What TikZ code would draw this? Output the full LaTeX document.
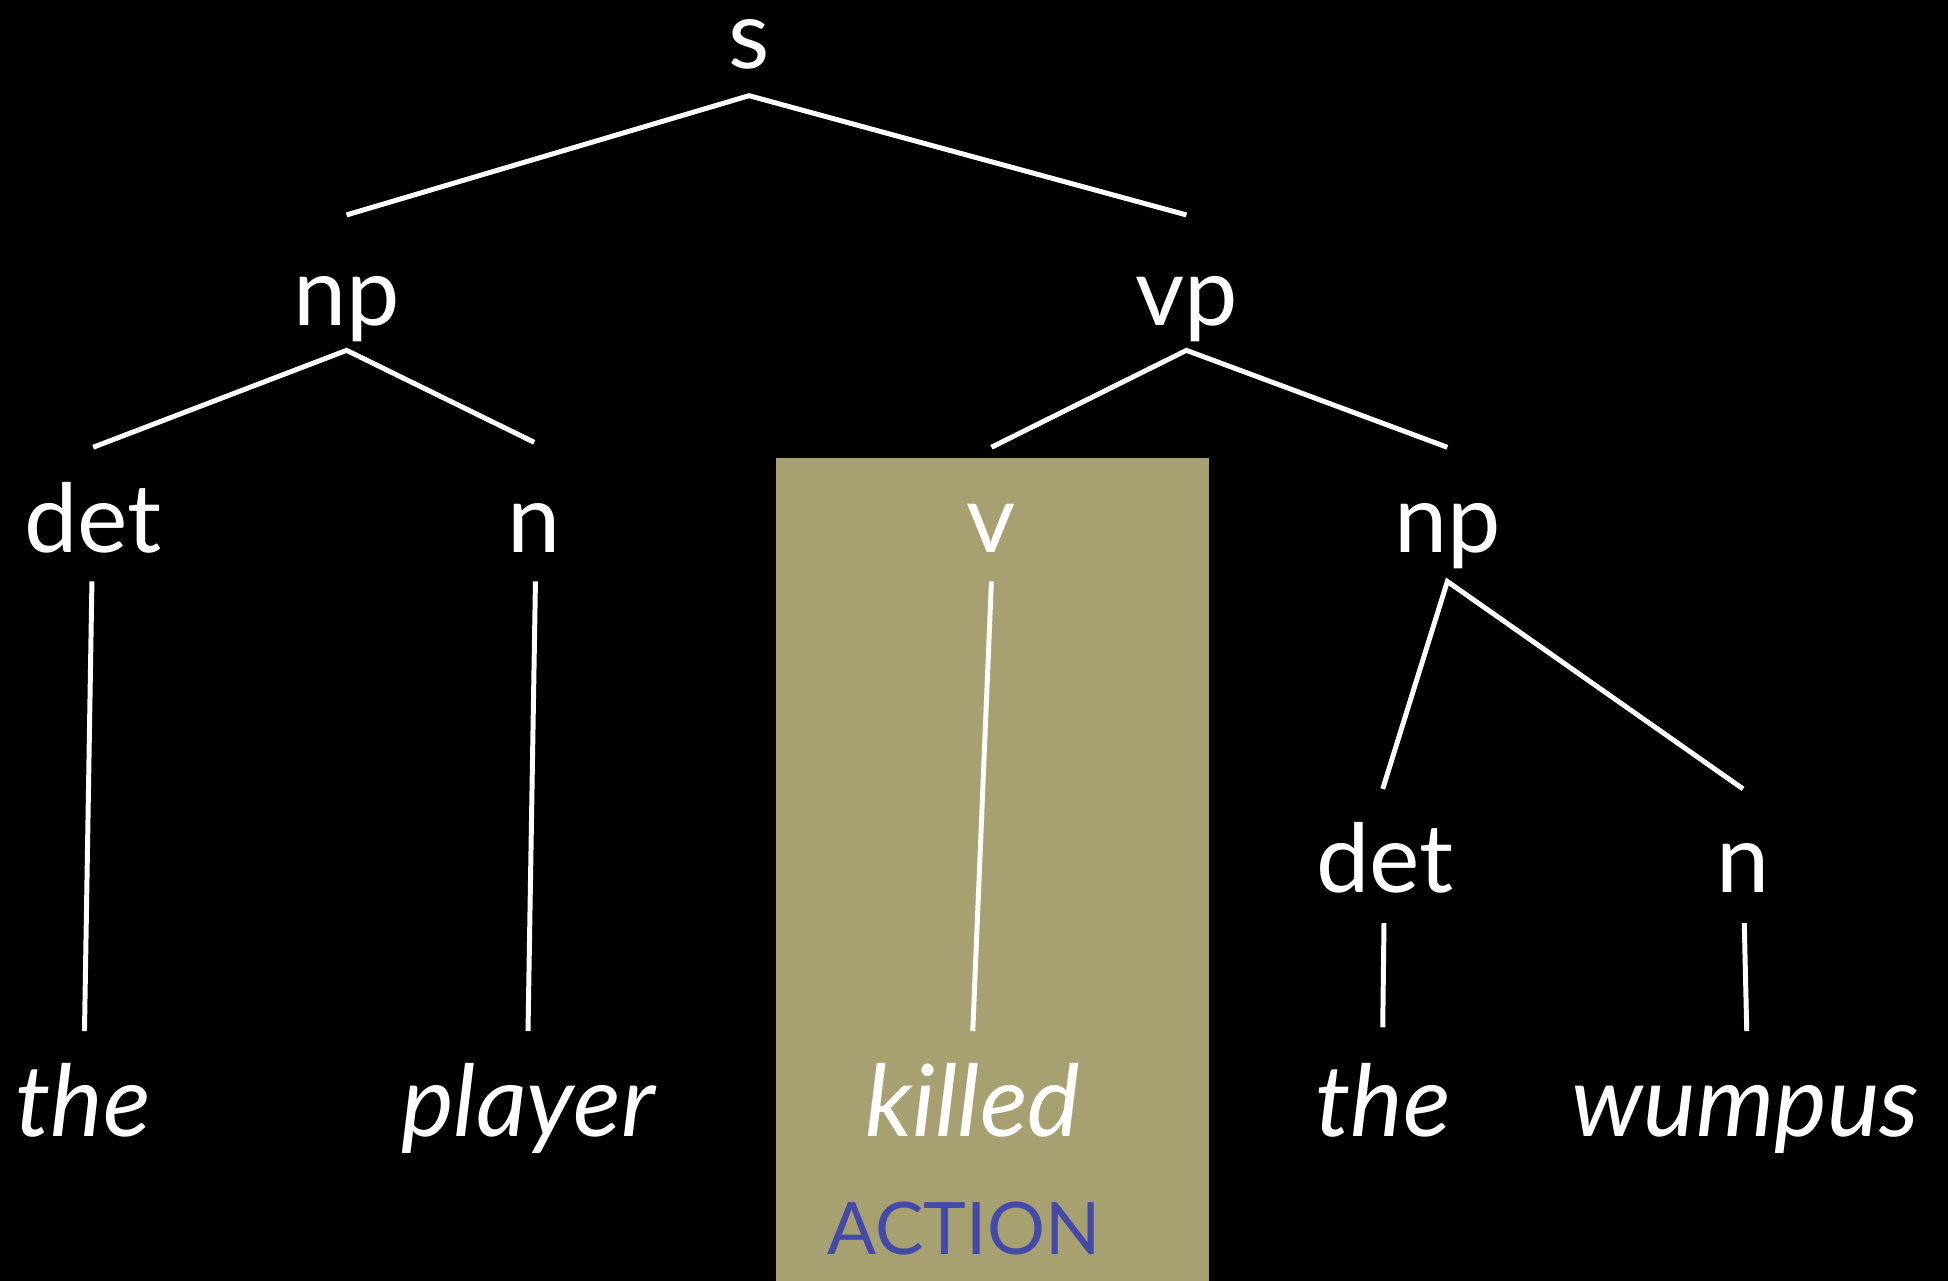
\documentclass[tikz,border=0pt]{standalone}
\usepackage{fontspec}
\setmainfont{Lato}
\usetikzlibrary{calc}
\definecolor{boxol}{RGB}{167,160,112}
\definecolor{actblue}{RGB}{68,74,170}
\tikzset{
  lbl/.style={anchor=base,text=white,inner sep=0pt,font=\fontsize{46}{46}\selectfont},
  word/.style={anchor=base,text=white,inner sep=0pt,font=\fontsize{48}{48}\selectfont\itshape},
  edge/.style={draw=white,line width=2.4pt}
}
\begin{document}
\begin{tikzpicture}[x=0.6pt,y=-0.6pt]
\fill[black] (0,0) rectangle (1568,1031);
\useasboundingbox (0,0) rectangle (1568,1031);
\fill[boxol] (625,369) rectangle (973,1031);
% labels
\node[lbl] (s) at (603,55) {s};
\node[lbl] (np1) at (279,262) {np};
\node[lbl] (vp) at (955,262) {vp};
\node[lbl] (det1) at (75,445) {det};
\node[lbl] (n1) at (430,445) {n};
\node[lbl] (v) at (798,445) {v};
\node[lbl] (np2) at (1165,445) {np};
\node[lbl] (det2) at (1115,718) {det};
\node[lbl] (n2) at (1403,718) {n};
% words
\node[word] (w1) at (67,915) {the};
\node[word] (w2) at (425,915) {player};
\node[word] (w3) at (783,915) {killed};
\node[word] (w4) at (1113,915) {the};
\node[word] (w5) at (1405,915) {wumpus};
\node[anchor=base,inner sep=0pt,text=actblue,font=\fontsize{35}{35}\selectfont] (act) at (776,1010) {ACTION};
% edges
\draw[edge] ($(np1.base)+(0,-89)$) -- ($(s.base)+(0,22)$) -- ($(vp.base)+(0,-89)$);
\draw[edge] ($(det1.base)+(0,-85)$) -- ($(np1.base)+(0,20)$) -- ($(n1.base)+(0,-89)$);
\draw[edge] ($(v.base)+(0,-85)$) -- ($(vp.base)+(0,20)$) -- ($(np2.base)+(0,-85)$);
\draw[edge] ($(det2.base)+(-2,-83)$) -- ($(np2.base)+(0,23)$) -- ($(n2.base)+(0,-83)$);
\draw[edge] ($(det1.base)+(-1,23)$) -- ($(w1.base)+(1,-85)$);
\draw[edge] ($(n1.base)+(1,23)$) -- ($(w2.base)+(0,-85)$);
\draw[edge] ($(v.base)+(0,23)$) -- ($(w3.base)+(0,-85)$);
\draw[edge] ($(det2.base)+(-1,25)$) -- ($(w4.base)+(0,-88)$);
\draw[edge] ($(n2.base)+(1,25)$) -- ($(w5.base)+(1,-85)$);
\end{tikzpicture}
\end{document}
